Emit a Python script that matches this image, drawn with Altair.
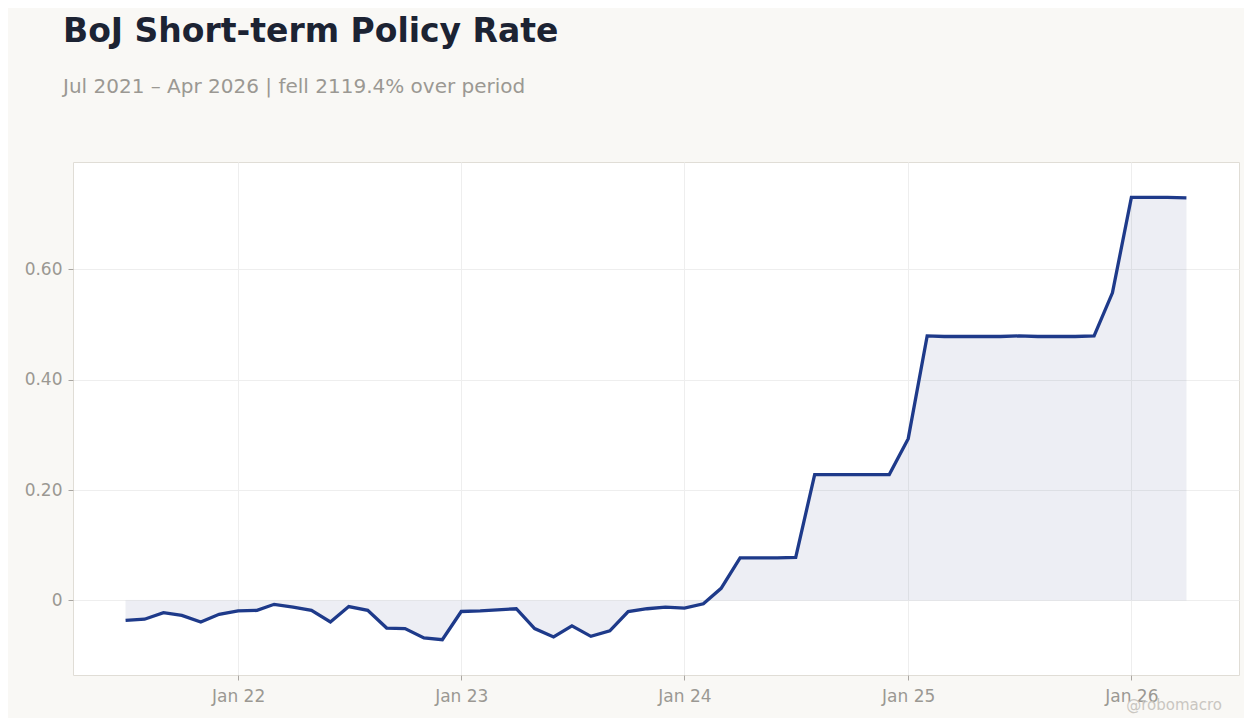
import altair as alt
import pandas as pd

dates = pd.date_range("2021-07-01", periods=58, freq="MS").strftime("%Y-%m-%d").tolist()
rates = [
    -0.0361, -0.034, -0.022, -0.027, -0.039, -0.025,
    -0.019, -0.018, -0.007, -0.012, -0.018, -0.039,
    -0.011, -0.018, -0.050, -0.051, -0.068, -0.071,
    -0.020, -0.019, -0.017, -0.015, -0.051, -0.066,
    -0.046, -0.065, -0.055, -0.020, -0.015, -0.012,
    -0.014, -0.006, 0.022, 0.077, 0.077, 0.077,
    0.078, 0.228, 0.228, 0.228, 0.228, 0.228,
    0.293, 0.479, 0.478, 0.478, 0.478, 0.478,
    0.479, 0.478, 0.478, 0.478, 0.479, 0.557,
    0.730, 0.730, 0.730, 0.729,
]
y_ticks = [0, 0.2, 0.4, 0.6]
x_ticks = ["2022-01-01", "2023-01-01", "2024-01-01", "2025-01-01", "2026-01-01"]

df = pd.DataFrame({"date": dates, "rate": rates})
df["zero"] = 0.0

FONT = "DejaVu Sans"
LINE = "#1e3a8a"
GRAY = "#9b9893"

x_enc = alt.X(
    "date:T",
    scale=alt.Scale(domain=["2021-04-06", "2026-06-26"]),
    axis=alt.Axis(
        values=x_ticks, format="%b %y", title=None, labelFontSize=17,
        labelColor=GRAY, labelFont=FONT, tickColor="#aaa7a2", tickSize=5,
        domain=False, gridColor="#eeeeee", labelPadding=8,
    ),
)
y_scale = alt.Scale(domain=[-0.135, 0.794], nice=False, zero=False)
y_axis = alt.Axis(
    values=y_ticks, title=None, labelFontSize=17, labelColor=GRAY, labelFont=FONT,
    labelExpr="datum.value == 0 ? '0' : format(datum.value, '.2f')",
    tickColor="#aaa7a2", tickSize=5, domain=False, gridColor="#eeeeee", labelPadding=6,
)

area = alt.Chart(df).mark_area(
    color="#283a7a", opacity=0.08, stroke=LINE, strokeOpacity=0.12, strokeWidth=1
).encode(x=x_enc, y=alt.Y("rate:Q", scale=y_scale, axis=y_axis), y2="zero:Q")

line = alt.Chart(df).mark_line(color=LINE, strokeWidth=3.3).encode(
    x=x_enc, y=alt.Y("rate:Q", scale=y_scale, axis=y_axis)
)

mark_df = pd.DataFrame({"t": ["@robomacro"]})
watermark = alt.Chart(mark_df).mark_text(
    align="right", baseline="middle", fontSize=15, font=FONT, color="#c9c6c1"
).encode(text="t:N", x=alt.value(1149), y=alt.value(543))

chart = alt.layer(area, line, watermark).properties(
    width=1166,
    height=513,
    background="#f9f8f5",
    padding={"left": 16, "top": 8, "right": 5, "bottom": 5},
    title=alt.TitleParams(
        text="BoJ Short-term Policy Rate",
        subtitle="Jul 2021 – Apr 2026 | fell 2119.4% over period",
        anchor="start", frame="group", font=FONT, fontSize=33, fontWeight="bold",
        color="#1c2333",
        subtitleFont=FONT, subtitleFontSize=20, subtitleColor=GRAY,
        subtitlePadding=28, offset=65, dx=-10,
    ),
).configure_view(fill="white", stroke="#e0ddd6", strokeWidth=1)

chart.save("out.html", embed_options={"renderer": "svg", "actions": False})
